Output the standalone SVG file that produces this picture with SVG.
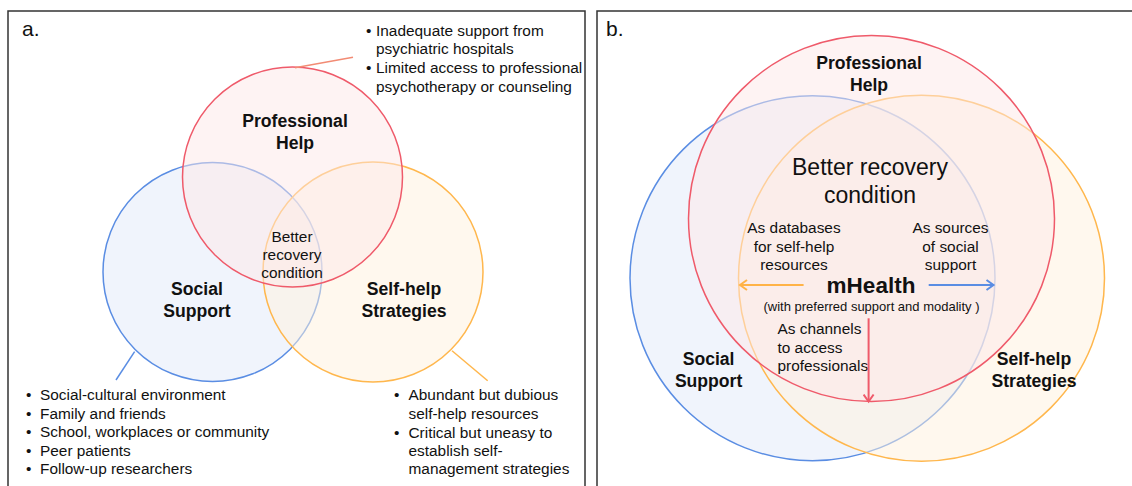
<svg xmlns="http://www.w3.org/2000/svg" width="1132" height="486" viewBox="0 0 1132 486">
<defs>
<style>
text{font-family:"Liberation Sans",Arial,sans-serif;fill:#111;}
.t{font-size:15.4px;}
.b{font-size:17.6px;font-weight:bold;}
.lbl{font-size:21px;}
.c{text-anchor:middle;}
.frame{fill:#fff;stroke:#333;stroke-width:1.5;}
.cb{fill:#e1e9f9;fill-opacity:0.5;stroke:#5a8de3;stroke-width:1.5;}
.co{fill:#fff1dd;fill-opacity:0.5;stroke:#ffb74d;stroke-width:1.5;}
.cr{fill:#fde8e8;fill-opacity:0.5;stroke:#ef5a6a;stroke-width:1.5;}
</style>
<marker id="ao" markerUnits="userSpaceOnUse" markerWidth="12" markerHeight="12" refX="9" refY="6" orient="auto"><path d="M2,1 L9,6 L2,11" fill="none" stroke="#ffb347" stroke-width="2"/></marker>
<marker id="ab" markerUnits="userSpaceOnUse" markerWidth="12" markerHeight="12" refX="9" refY="6" orient="auto"><path d="M2,1 L9,6 L2,11" fill="none" stroke="#5a8de3" stroke-width="2"/></marker>
<marker id="ar" markerUnits="userSpaceOnUse" markerWidth="12" markerHeight="12" refX="9" refY="6" orient="auto"><path d="M2,1 L9,6 L2,11" fill="none" stroke="#ef5a6a" stroke-width="2"/></marker>
</defs>
<rect width="1132" height="486" fill="#fff"/>
<rect class="frame" x="8" y="11" width="577" height="490"/>
<rect class="frame" x="597" y="11" width="545" height="490"/>
<text class="lbl" x="22" y="36">a.</text>
<text class="lbl" x="606" y="36">b.</text>

<!-- Panel a -->
<g id="a-social">
<circle class="cb" cx="212.5" cy="272" r="109.5"/>
<text class="b c" x="197" y="295">Social</text>
<text class="b c" x="197" y="317">Support</text>
</g>
<g id="a-selfhelp">
<circle class="co" cx="373" cy="272" r="110"/>
<text class="b c" x="404" y="295">Self-help</text>
<text class="b c" x="404" y="317">Strategies</text>
</g>
<g id="a-professional">
<circle class="cr" cx="292.5" cy="177" r="110"/>
<text class="b c" x="295" y="127">Professional</text>
<text class="b c" x="295" y="149">Help</text>
</g>
<g id="a-center">
<text class="t c" x="292" y="242">Better</text>
<text class="t c" x="292" y="260">recovery</text>
<text class="t c" x="292" y="278">condition</text>
</g>
<g id="a-prof-notes">
<text class="t" x="366" y="35.5">•</text>
<text class="t" x="376" y="35.5">Inadequate support from</text>
<text class="t" x="376" y="54">psychiatric hospitals</text>
<text class="t" x="366" y="73">•</text>
<text class="t" x="376" y="73">Limited access to professional</text>
<text class="t" x="376" y="91.5">psychotherapy or counseling</text>
</g>
<g id="a-social-notes">
<text class="t" x="26" y="400">•</text><text class="t" x="40" y="400">Social-cultural environment</text>
<text class="t" x="26" y="418.5">•</text><text class="t" x="40" y="418.5">Family and friends</text>
<text class="t" x="26" y="437">•</text><text class="t" x="40" y="437">School, workplaces or community</text>
<text class="t" x="26" y="455.5">•</text><text class="t" x="40" y="455.5">Peer patients</text>
<text class="t" x="26" y="474">•</text><text class="t" x="40" y="474">Follow-up researchers</text>
</g>
<g id="a-selfhelp-notes">
<text class="t" x="394" y="400">•</text><text class="t" x="408.5" y="400">Abundant but dubious</text>
<text class="t" x="408.5" y="418.5">self-help resources</text>
<text class="t" x="394" y="437.5">•</text><text class="t" x="408.5" y="437.5">Critical but uneasy to</text>
<text class="t" x="408.5" y="456">establish self-</text>
<text class="t" x="408.5" y="474">management strategies</text>
</g>

<!-- Panel b -->
<g id="b-social">
<circle class="cb" cx="812.5" cy="278.2" r="182.5"/>
<text class="b c" x="708.6" y="365">Social</text>
<text class="b c" x="708.6" y="387">Support</text>
</g>
<g id="b-selfhelp">
<circle class="co" cx="921.5" cy="278.2" r="183"/>
<text class="b c" x="1034" y="365">Self-help</text>
<text class="b c" x="1034" y="387">Strategies</text>
</g>
<g id="b-professional">
<circle class="cr" cx="871.5" cy="218.5" r="183"/>
<text class="b c" x="869" y="69">Professional</text>
<text class="b c" x="869" y="91">Help</text>
</g>
<g id="b-center">
<text class="c" x="870" y="175" style="font-size:23px">Better recovery</text>
<text class="c" x="870" y="202.5" style="font-size:23px">condition</text>
</g>
<g id="b-mhealth">
<text class="c" x="871" y="292.5" style="font-size:22.5px;font-weight:bold">mHealth</text>
<text class="c" x="871.5" y="310.5" style="font-size:13px">(with preferred support and modality )</text>
</g>
<g id="b-label-databases">
<text class="t c" x="794" y="233">As databases</text>
<text class="t c" x="794" y="251.5">for self-help</text>
<text class="t c" x="794" y="269.5">resources</text>
</g>
<g id="b-label-sources">
<text class="t c" x="950.5" y="233">As sources</text>
<text class="t c" x="950.5" y="251.5">of social</text>
<text class="t c" x="950.5" y="269.5">support</text>
</g>
<g id="b-label-channels">
<text class="t" x="777.5" y="334">As channels</text>
<text class="t" x="777.5" y="352.5">to access</text>
<text class="t" x="777.5" y="371">professionals</text>
</g>

<g id="connectors" fill="none">
<line x1="295" y1="67.7" x2="353" y2="57.3" stroke="#f28b74" stroke-width="1.5"/>
<line x1="134.6" y1="351.7" x2="116" y2="380" stroke="#5a8de3" stroke-width="1.5"/>
<line x1="452" y1="350.7" x2="487.7" y2="380.7" stroke="#ffb74d" stroke-width="1.5"/>
<line x1="803.6" y1="285" x2="740" y2="285" stroke="#ffb347" stroke-width="2" marker-end="url(#ao)"/>
<line x1="928.7" y1="285" x2="993.5" y2="285" stroke="#5a8de3" stroke-width="2" marker-end="url(#ab)"/>
<line x1="868.6" y1="318.3" x2="868.6" y2="401.5" stroke="#ef5a6a" stroke-width="2" marker-end="url(#ar)"/>
</g>
</svg>
